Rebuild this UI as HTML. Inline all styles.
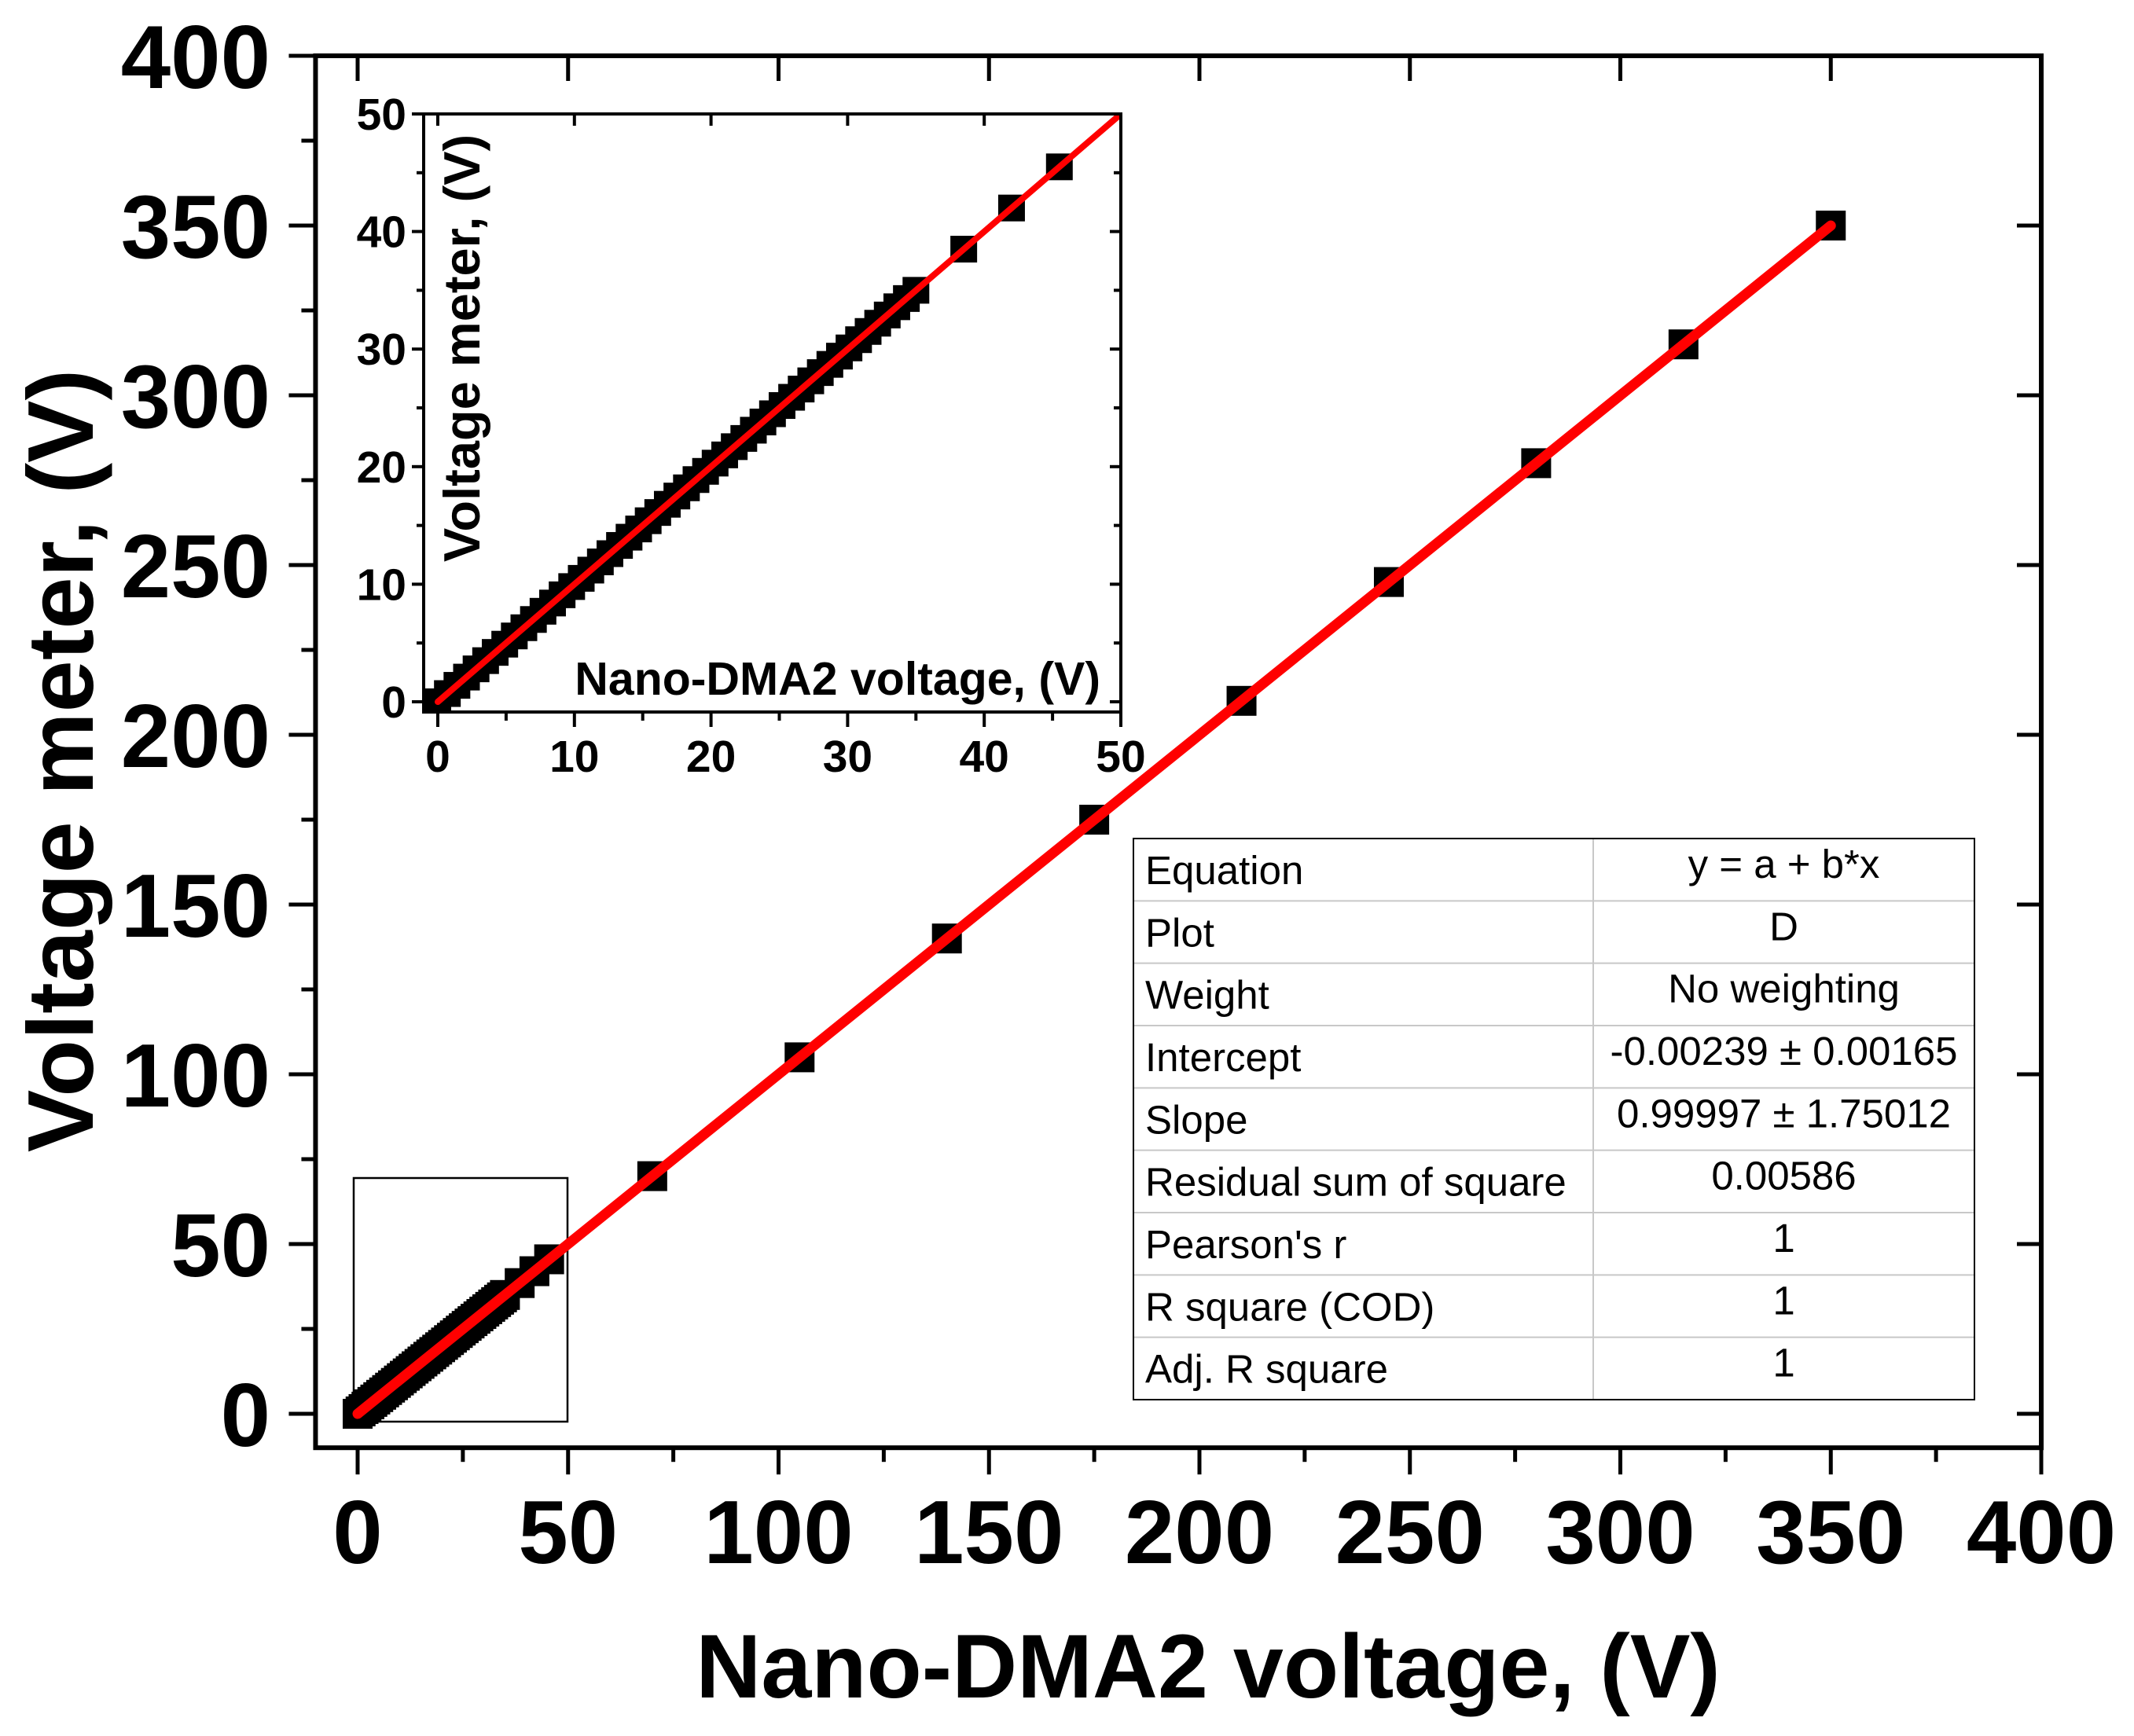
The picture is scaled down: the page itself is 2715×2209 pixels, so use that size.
<!DOCTYPE html>
<html><head><meta charset="utf-8"><style>
html,body{margin:0;padding:0;background:#fff;}
svg{display:block;}
text{font-family:"Liberation Sans",Arial,sans-serif;}
</style></head><body>
<svg id="chart" width="2715" height="2209" viewBox="0 0 2715 2209" xmlns="http://www.w3.org/2000/svg"></svg>
<script>
// ---- data ----
const mainX = [0,0.7,1.4,2.1,2.8,3.5,4.2,4.9,5.6,6.3,7,7.7,8.4,9.1,9.8,10.5,11.2,11.9,12.6,13.3,14,14.7,15.4,16.1,16.8,17.5,18.2,18.9,19.6,20.3,21,21.7,22.4,23.1,23.8,24.5,25.2,25.9,26.6,27.3,28,28.7,29.4,30.1,30.8,31.5,32.2,32.9,33.6,34.3,35,38.5,42,45.5,70,105,140,175,210,245,280,315,350];
const mainY = [0,0.7,1.4,2.1,2.8,3.5,4.2,4.9,5.6,6.3,7,7.7,8.4,9.1,9.8,10.5,11.2,11.9,12.6,13.3,14,14.7,15.4,16.1,16.8,17.5,18.2,18.9,19.6,20.3,21,21.7,22.4,23.1,23.8,24.5,25.2,25.9,26.6,27.3,28,28.7,29.4,30.1,30.8,31.5,32.2,32.9,33.6,34.3,35,38.5,42,45.5,70,105,140,175,210,245,280,315,350];
const fitIntercept = -0.00239;
const fitSlope = 0.99997;
const mainTicks = [0,50,100,150,200,250,300,350,400];
const mainMinor = [25,75,125,175,225,275,325,375];
const insetTicks = [0,10,20,30,40,50];
const insetMinor = [5,15,25,35,45];
const tableLabels = ["Equation","Plot","Weight","Intercept","Slope","Residual sum of square","Pearson's r","R square (COD)","Adj. R square"];
const tableValues = ["y = a + b*x","D","No weighting","-0.00239 ± 0.00165","0.99997 ± 1.75012","0.00586","1","1","1"];

const NS="http://www.w3.org/2000/svg";
const svg=document.getElementById('chart');
function mk(tag,attrs,parent){const e=document.createElementNS(NS,tag);for(const k in attrs)e.setAttribute(k,attrs[k]);(parent||svg).appendChild(e);return e;}

// main axes
const X0=455, XS=(2597-455)/400, Y0=1799, YS=4.32;
const mx=v=>X0+v*XS, my=v=>Y0-v*YS;
const FL=mx(-10), FR=mx(400), FT=my(400), FB=my(-10);

const gMain=mk('g',{});



mainTicks.forEach(t=>{
  let l=mk('line',{x1:mx(t),x2:mx(t),y1:FB,y2:FB+34,stroke:'#000','stroke-width':5},gMain);
  
  l=mk('line',{x1:mx(t),x2:mx(t),y1:FT,y2:FT+32,stroke:'#000','stroke-width':5},gMain);
  
  l=mk('line',{x1:FL-34,x2:FL,y1:my(t),y2:my(t),stroke:'#000','stroke-width':5},gMain);
  
  l=mk('line',{x1:FR-31,x2:FR,y1:my(t),y2:my(t),stroke:'#000','stroke-width':5},gMain);
  
  let tx=mk('text',{x:mx(t),y:1989,'font-size':114,'font-weight':'bold','text-anchor':'middle'},gMain);
  tx.textContent=t;
  
  tx=mk('text',{x:344,y:my(t)+41,'font-size':114,'font-weight':'bold','text-anchor':'end'},gMain);
  tx.textContent=t;
  
});
mainMinor.forEach(t=>{
  let l=mk('line',{x1:mx(t),x2:mx(t),y1:FB,y2:FB+18,stroke:'#000','stroke-width':5},gMain);
  
  l=mk('line',{x1:FL-18,x2:FL,y1:my(t),y2:my(t),stroke:'#000','stroke-width':5},gMain);
  
});
let fr=mk('rect',{x:FL,y:FT,width:FR-FL,height:FB-FT,fill:'none',stroke:'#000','stroke-width':6},gMain);


let zb=mk('rect',{x:450,y:1499,width:272,height:310,fill:'none',stroke:'#000','stroke-width':2.5},gMain);


mainX.forEach((v,i)=>{
  const r=mk('rect',{x:mx(v)-19,y:my(mainY[i])-19,width:38,height:38,fill:'#000'},gMain);
  
});
let fl=mk('line',{x1:mx(0),y1:my(fitIntercept),x2:mx(350),y2:my(fitIntercept+fitSlope*350),stroke:'#ff0000','stroke-width':13,'stroke-linecap':'round'},gMain);


let xt=mk('text',{x:1537,y:2160,'font-size':115,'font-weight':'bold','text-anchor':'middle'},gMain);
xt.textContent='Nano-DMA2 voltage, (V)';

let yt=mk('text',{x:0,y:0,'font-size':119,'font-weight':'bold','text-anchor':'middle',transform:'translate(118,968) rotate(-90)'},gMain);
yt.textContent='Voltage meter, (V)';


// ---- inset ----
const IX0=557, IXS=(1426-557)/50, IY0=893, IYS=(893-145)/50;
const ix=v=>IX0+v*IXS, iy=v=>IY0-v*IYS;
const IL=539, IR=1426, IT=145, IB=906;
const gIn=mk('g',{});


mk('rect',{x:IL,y:IT,width:IR-IL,height:IB-IT,fill:'#fff'},gIn);
mk('clipPath',{id:'ic'},gIn);
mk('rect',{x:IL,y:IT,width:IR-IL,height:IB-IT},document.getElementById('ic'));
const gData=mk('g',{'clip-path':'url(#ic)'},gIn);
mainX.forEach((v,i)=>{
  if(v>50) return;
  const r=mk('rect',{x:ix(v)-17,y:iy(mainY[i])-17,width:34,height:34,fill:'#000'},gData);
  
});
let il=mk('line',{x1:ix(0),y1:iy(fitIntercept),x2:ix(51),y2:iy(fitIntercept+fitSlope*51),stroke:'#ff0000','stroke-width':8,'stroke-linecap':'round'},gData);


insetTicks.forEach(t=>{
  mk('line',{x1:ix(t),x2:ix(t),y1:IB,y2:IB+19,stroke:'#000','stroke-width':4},gIn);
  mk('line',{x1:ix(t),x2:ix(t),y1:IT,y2:IT+15,stroke:'#000','stroke-width':4},gIn);
  mk('line',{x1:IL-15,x2:IL,y1:iy(t),y2:iy(t),stroke:'#000','stroke-width':4},gIn);
  mk('line',{x1:IR-14,x2:IR,y1:iy(t),y2:iy(t),stroke:'#000','stroke-width':4},gIn);
  let tx=mk('text',{x:ix(t),y:982,'font-size':57,'font-weight':'bold','text-anchor':'middle'},gIn);
  tx.textContent=t;
  
  tx=mk('text',{x:517,y:iy(t)+20,'font-size':57,'font-weight':'bold','text-anchor':'end'},gIn);
  tx.textContent=t;
  
});
insetMinor.forEach(t=>{
  mk('line',{x1:ix(t),x2:ix(t),y1:IB,y2:IB+11,stroke:'#000','stroke-width':4},gIn);
  mk('line',{x1:IL-9,x2:IL,y1:iy(t),y2:iy(t),stroke:'#000','stroke-width':4},gIn);
  mk('line',{x1:IR-9,x2:IR,y1:iy(t),y2:iy(t),stroke:'#000','stroke-width':4},gIn);
});
let ifr=mk('rect',{x:IL,y:IT,width:IR-IL,height:IB-IT,fill:'none',stroke:'#000','stroke-width':4},gIn);

let ixt=mk('text',{x:1400,y:884,'font-size':59,'font-weight':'bold','text-anchor':'end'},gIn);
ixt.textContent='Nano-DMA2 voltage, (V)';

let iyt=mk('text',{x:0,y:0,'font-size':65,'font-weight':'bold','text-anchor':'middle',transform:'translate(610,443) rotate(-90)'},gIn);
iyt.textContent='Voltage meter, (V)';


// ---- fit table ----
const TL=1442, TR=2512, TT=1067, TB=1781, TC=2027, RH=(TB-TT)/9;
const gT=mk('g',{});


mk('rect',{x:TL,y:TT,width:TR-TL,height:TB-TT,fill:'#fff'},gT);
for(let i=1;i<9;i++) mk('line',{x1:TL,x2:TR,y1:TT+i*RH,y2:TT+i*RH,stroke:'#c8c8c8','stroke-width':2},gT);
mk('line',{x1:TC,x2:TC,y1:TT,y2:TB,stroke:'#c8c8c8','stroke-width':2},gT);
mk('rect',{x:TL,y:TT,width:TR-TL,height:TB-TT,fill:'none',stroke:'#000','stroke-width':2},gT);
tableLabels.forEach((s,i)=>{
  let t=mk('text',{x:TL+15,y:TT+i*RH+58,'font-size':51},gT);
  t.textContent=s;
  
  t=mk('text',{x:(TC+TR)/2,y:TT+i*RH+50,'font-size':51,'text-anchor':'middle'},gT);
  t.textContent=tableValues[i];
  
});
</script>
</body></html>
